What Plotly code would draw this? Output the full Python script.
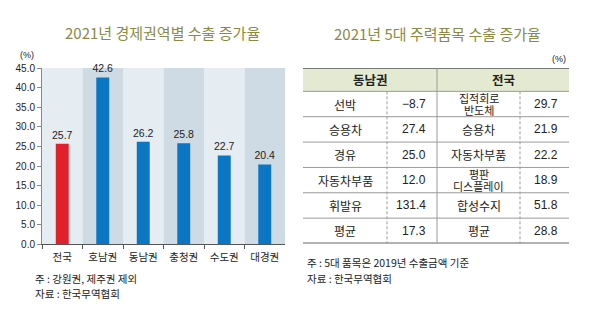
import plotly.graph_objects as go

# ---------------- data ----------------
regions = ["전국", "호남권", "동남권", "충청권", "수도권", "대경권"]
growth = [25.7, 42.6, 26.2, 25.8, 22.7, 20.4]

se_items = ["선박", "승용차", "경유", "자동차부품", "휘발유", "평균"]
se_vals = [-8.7, 27.4, 25.0, 12.0, 131.4, 17.3]
nat_items = ["집적회로<br>반도체", "승용차", "자동차부품", "평판<br>디스플레이", "합성수지", "평균"]
nat_vals = [29.7, 21.9, 22.2, 18.9, 51.8, 28.8]

y_ticks = [0, 5, 10, 15, 20, 25, 30, 35, 40, 45]

# ---------------- style ----------------
W, H = 600, 328
FONT = "Liberation Sans, Arial, Noto Sans CJK KR, sans-serif"
KFONT = "Noto Sans CJK KR, sans-serif"
TITLE_C = "#8a8a45"
RED = "#e0202a"
BLUE = "#0b76c4"
BAND_L = "#e6edf2"
BAND_D = "#cfdbe4"
HEAD_FILL = "#e3ead1"
TXT = "#222222"


def px(x):
    return x / W


def py(y):
    return 1 - y / H


fig = go.Figure()

bar_colors = [RED] + [BLUE] * (len(regions) - 1)
fig.add_trace(go.Bar(
    x=regions, y=growth, marker=dict(color=bar_colors, line=dict(width=0)),
    width=0.32, text=[f"{v:.1f}" for v in growth], textposition="outside",
    constraintext="none",
    textfont=dict(size=10.5, color=TXT, family=FONT), cliponaxis=False,
    hoverinfo="skip", xaxis="x", yaxis="y",
))

shapes = []
for i in range(len(regions)):
    shapes.append(dict(type="rect", xref="x", yref="y", x0=i - 0.5, x1=i + 0.5,
                       y0=0, y1=y_ticks[-1], fillcolor=BAND_L if i % 2 == 0 else BAND_D,
                       line=dict(width=0), layer="below"))

# ---------------- table (on its own axes) ----------------
col_w = [84, 50, 83, 49]
edges = [0]
for w in col_w:
    edges.append(edges[-1] + w)
head_h = 0.92
n_rows = len(se_items)
y_bottom = head_h + n_rows

shapes.append(dict(type="rect", xref="x2", yref="y2", x0=edges[0], x1=edges[-1],
                   y0=0, y1=head_h, fillcolor=HEAD_FILL, line=dict(width=0), layer="below"))
shapes.append(dict(type="line", xref="x2", yref="y2", x0=edges[0], x1=edges[-1],
                   y0=0, y1=0, line=dict(color="#555555", width=1.6)))
for r in range(n_rows):
    yy = head_h + r
    shapes.append(dict(type="line", xref="x2", yref="y2", x0=edges[0], x1=edges[-1],
                       y0=yy, y1=yy, line=dict(color="#9a9a9a", width=1)))
shapes.append(dict(type="line", xref="x2", yref="y2", x0=edges[0], x1=edges[-1],
                   y0=y_bottom, y1=y_bottom, line=dict(color="#666666", width=2)))
shapes.append(dict(type="line", xref="x2", yref="y2", x0=edges[2], x1=edges[2],
                   y0=0, y1=y_bottom, line=dict(color="#9a9a9a", width=1)))
for e in (edges[1], edges[3]):
    shapes.append(dict(type="line", xref="x2", yref="y2", x0=e, x1=e,
                       y0=head_h, y1=y_bottom, line=dict(color="#9a9a9a", width=1, dash="3px,2px")))

annotations = []


def fmt(v):
    return f"{v:.1f}".replace("-", "−")


def ann(**kw):
    base = dict(showarrow=False, xanchor="center", yanchor="middle")
    base.update(kw)
    annotations.append(base)


for label, c0, c1 in (("동남권", edges[0], edges[2]), ("전국", edges[2], edges[4])):
    ann(xref="x2", yref="y2", x=(c0 + c1) / 2, y=head_h / 2, text=f"<b>{label}</b>",
        font=dict(size=12.5, color=TXT, family=KFONT))
pad = 9
line_gap = 0.235  # half the spacing between two wrapped lines, in row units
for r in range(n_rows):
    yc = head_h + r + 0.5
    ann(xref="x2", yref="y2", x=(edges[0] + edges[1]) / 2, y=yc, text=se_items[r],
        font=dict(size=12, color=TXT, family=KFONT))
    ann(xref="x2", yref="y2", x=edges[2] - pad, y=yc, xanchor="right", text=fmt(se_vals[r]),
        font=dict(size=12, color=TXT, family=FONT))
    parts = nat_items[r].split("<br>")
    if len(parts) == 1:
        ann(xref="x2", yref="y2", x=(edges[2] + edges[3]) / 2, y=yc, text=parts[0],
            font=dict(size=12, color=TXT, family=KFONT))
    else:
        for k, part in enumerate(parts):
            ann(xref="x2", yref="y2", x=(edges[2] + edges[3]) / 2,
                y=yc + (k * 2 - 1) * line_gap, text=part,
                font=dict(size=11, color=TXT, family=KFONT))
    ann(xref="x2", yref="y2", x=edges[4] - pad, y=yc, xanchor="right", text=fmt(nat_vals[r]),
        font=dict(size=12, color=TXT, family=FONT))

ann(xref="paper", yref="paper", x=px(162), y=py(28), text="2021년 경제권역별 수출 증가율",
    font=dict(size=15, color=TITLE_C, family=KFONT))
ann(xref="paper", yref="paper", x=px(437), y=py(29), text="2021년 5대 주력품목 수출 증가율",
    font=dict(size=15, color=TITLE_C, family=KFONT))
ann(xref="paper", yref="paper", x=px(27), y=py(52), text="(%)",
    font=dict(size=9, color=TXT, family=FONT))
ann(xref="paper", yref="paper", x=px(559), y=py(56), text="(%)",
    font=dict(size=9, color=TXT, family=FONT))
ann(xref="paper", yref="paper", x=px(33), y=py(282), xanchor="left",
    text="주 : 강원권, 제주권 제외", font=dict(size=10.5, color=TXT, family=KFONT))
ann(xref="paper", yref="paper", x=px(33), y=py(298), xanchor="left",
    text="자료 : 한국무역협회", font=dict(size=10.5, color=TXT, family=KFONT))
ann(xref="paper", yref="paper", x=px(305), y=py(266), xanchor="left",
    text="주 : 5대 품목은 2019년 수출금액 기준", font=dict(size=10.5, color=TXT, family=KFONT))
ann(xref="paper", yref="paper", x=px(305), y=py(282), xanchor="left",
    text="자료 : 한국무역협회", font=dict(size=10.5, color=TXT, family=KFONT))

fig.update_layout(
    width=W, height=H, margin=dict(l=0, r=0, t=0, b=0, pad=0),
    paper_bgcolor="white", plot_bgcolor="rgba(0,0,0,0)",
    showlegend=False, shapes=shapes, annotations=annotations,
    font=dict(family=FONT, color=TXT),
    xaxis=dict(domain=[px(42), px(285)], type="category", range=[-0.5, len(regions) - 0.5],
               showline=True, linecolor="#555555", linewidth=1, ticks="outside",
               tickson="boundaries", ticklen=4, tickcolor="#555555", showgrid=False,
               ticklabelstandoff=3,
               tickfont=dict(size=10.5, color=TXT, family=KFONT), fixedrange=True),
    yaxis=dict(domain=[py(247), py(65)], range=[0, y_ticks[-1]], tickvals=y_ticks,
               tickformat=".1f", showline=True, linecolor="#888888", linewidth=1,
               ticks="outside", ticklen=4, tickcolor="#888888", showgrid=False,
               zeroline=False, tickfont=dict(size=10, color=TXT, family=FONT), fixedrange=True),
    xaxis2=dict(domain=[px(303), px(569)], range=[edges[0], edges[-1]], visible=False,
                anchor="y2", fixedrange=True),
    yaxis2=dict(domain=[py(246), py(65)], range=[y_bottom, 0], visible=False,
                anchor="x2", fixedrange=True),
)

fig.write_html("out.html")
